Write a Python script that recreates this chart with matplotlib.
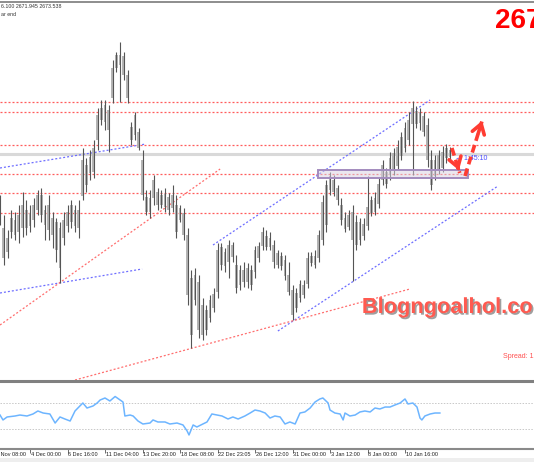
import matplotlib
matplotlib.use('Agg')
import matplotlib.pyplot as plt
import matplotlib.patheffects as pe
from matplotlib.patches import Rectangle
from matplotlib.transforms import blended_transform_factory

plt.rcParams['font.family'] = ['Liberation Sans', 'DejaVu Sans']

# XAUUSD H4 - bars counted from the left edge of the screenshot
highs = [2652.5, 2642.5, 2635, 2645, 2644, 2647.5, 2654, 2650, 2647.5, 2651,
         2655, 2656, 2647.5, 2652.5, 2644, 2641, 2639, 2644, 2647.5, 2650,
         2647.5, 2650, 2676, 2671, 2675, 2680, 2696, 2700, 2700, 2697.5,
         2720, 2724, 2729, 2724, 2715, 2689, 2694, 2686, 2675, 2655,
         2655, 2662.5, 2656, 2655, 2656, 2653.5, 2657.5, 2652.5, 2647.5, 2646,
         2636, 2615, 2616, 2612.5, 2601, 2597.5, 2602.5, 2606, 2628.5, 2628.5,
         2626, 2630, 2629, 2622.5, 2617.5, 2619, 2618.5, 2617.5, 2627, 2629,
         2636.5, 2635, 2634, 2630, 2625, 2624, 2622.5, 2619, 2607.5, 2606,
         2610, 2610, 2624, 2624, 2625, 2635, 2652.5, 2660, 2664, 2662.5,
         2657.5, 2651, 2644, 2645, 2647.5, 2642.5, 2641, 2641, 2662, 2652,
         2654, 2661, 2670, 2666, 2674, 2676, 2680, 2684, 2689, 2694,
         2699.5, 2697, 2696, 2694, 2691, 2675, 2672.5, 2675, 2677, 2678,
         2676.5]
lows = [2637.5, 2617.5, 2621, 2631, 2630, 2628.5, 2631.5, 2632.5, 2634, 2636.5,
        2642.5, 2639, 2630, 2630, 2626, 2619, 2608.5, 2627.5, 2634, 2636,
        2634, 2631, 2650, 2654, 2660, 2661, 2675, 2687.5, 2685, 2674,
        2698.5, 2714, 2699, 2710, 2698.5, 2677.5, 2680, 2675, 2650, 2642.5,
        2641, 2647.5, 2645, 2646, 2644, 2642.5, 2644, 2631, 2639, 2630,
        2597.5, 2576, 2597.5, 2581, 2580, 2582.5, 2589, 2594, 2601, 2615,
        2614, 2611, 2619, 2603.5, 2605, 2606.5, 2606, 2605, 2611, 2619,
        2625, 2625, 2625, 2616, 2616, 2615, 2610, 2602.5, 2590, 2594,
        2599, 2601, 2606, 2617, 2616, 2619, 2627.5, 2634, 2652.5, 2652,
        2647.5, 2637.5, 2634, 2635, 2609.5, 2625, 2627.5, 2630, 2635, 2642,
        2642.5, 2646, 2657.5, 2656, 2660, 2662.5, 2665, 2670, 2674, 2677.5,
        2662.5, 2686, 2685, 2682, 2666.5, 2655, 2660, 2663, 2664, 2668.5,
        2670]
body_top = [2648.5, 2636, 2631, 2641, 2640, 2642.5, 2647.5, 2645, 2643.5, 2647.5,
            2652.5, 2652.5, 2645, 2647.5, 2641, 2639, 2636, 2640, 2644, 2647.5,
            2645, 2645, 2670, 2667.5, 2671.5, 2676, 2692.5, 2696, 2697.5, 2695,
            2716, 2722.5, 2722.5, 2722, 2712.5, 2686.5, 2692.5, 2684, 2670, 2651.5,
            2651, 2660, 2654, 2652.5, 2653, 2651.5, 2652.5, 2647.5, 2646, 2643.5,
            2632.5, 2611, 2612.5, 2609, 2597.5, 2595, 2600, 2603, 2625, 2626.5,
            2624, 2627.5, 2627.5, 2617.5, 2615, 2615, 2616, 2615, 2625, 2627,
            2634, 2632, 2631, 2627.5, 2623.5, 2622, 2620, 2612.5, 2605, 2603.5,
            2608, 2607.5, 2621, 2622, 2622, 2632.5, 2649, 2657.5, 2662, 2660,
            2656, 2647.5, 2641, 2642.5, 2644, 2639, 2639, 2638, 2646.5, 2650,
            2651, 2658, 2667.5, 2664, 2671, 2673.5, 2676.5, 2681.5, 2686, 2690,
            2696, 2694.5, 2694, 2692, 2687.5, 2670, 2670, 2672.5, 2674, 2676,
            2675]
body_bot = [2640, 2621, 2624, 2634, 2632.5, 2634, 2636, 2636, 2637, 2640,
            2645, 2642.5, 2637.5, 2635, 2632.5, 2625, 2616, 2631, 2637, 2639,
            2637, 2636, 2652, 2657.5, 2663.5, 2664, 2680, 2690, 2689, 2685,
            2701, 2716, 2717.5, 2712.5, 2701, 2680, 2682.5, 2676, 2652.5, 2644,
            2644, 2651, 2647.5, 2647.5, 2646.5, 2645, 2646, 2634, 2640, 2632.5,
            2602.5, 2582.5, 2600, 2585, 2582.5, 2585, 2591, 2596, 2604, 2617.5,
            2617, 2619, 2621.5, 2606, 2607.5, 2609, 2609, 2607.5, 2614, 2621,
            2627, 2626.5, 2626.5, 2619, 2617.5, 2617, 2612, 2604, 2592.5, 2596,
            2601, 2602.5, 2608, 2618.5, 2617.5, 2621, 2630, 2637.5, 2655, 2654,
            2650, 2640, 2635.5, 2636.5, 2630, 2627.5, 2630, 2632, 2637, 2643.5,
            2644, 2648, 2660, 2658, 2662.5, 2665, 2667, 2672, 2676, 2680,
            2688, 2688, 2688.5, 2684, 2670, 2657.5, 2662, 2665, 2666, 2671,
            2671.5]
last_price = 2673.0
bar_info = '6.100 2671.945 2673.538'

# horizontal levels and trend lines drawn on the chart (bar, price)
levels = [2699, 2694, 2677.5, 2663, 2653.5, 2643.5]
blue_lines = [((0, 2666), (38.9, 2678)),
              ((0, 2603.5), (37.9, 2615.5)),
              ((56.8, 2627.5), (114.7, 2700)),
              ((74.1, 2584.5), (132.8, 2657))]
red_lines = [((0, 2587.5), (58.7, 2665.5)),
             ((20, 2560), (109.3, 2605.5))]
zone_bars = (84.8, 124.8)
zone_prices = (2661, 2665)
arrow_down = ((120.5, 2676), (122.6, 2663.5))
arrow_up = ((124.0, 2662), (128.8, 2691))

# oscillator in the lower window
osc_x = [0, 0.8, 1.9, 4, 5.3, 7.2, 8.8, 10.1, 11.5, 13.3, 14.7, 16, 17.3, 18.7,
         20, 21.3, 22.1, 23.2, 24.8, 25.9, 26.7, 28, 29.3, 30.7, 32.8, 33.3,
         34.7, 35.5, 36.8, 38.1, 40, 40.8, 42.1, 44, 45.3, 47.2, 48.8, 49.9,
         50.4, 51.5, 52.5, 54.1, 55.2, 56.5, 57.9, 59.2, 60.8, 62.1, 63.5, 65.3,
         66.7, 68, 69.3, 70.7, 72, 73.3, 74.7, 76, 77.3, 78.7, 80, 81.3, 82.7,
         84, 85.3, 86.1, 87.5, 88, 89.3, 90.7, 91.5, 92, 93.3, 94.7, 96, 97.3,
         98.7, 100, 101.3, 102.7, 104, 105.3, 106.7, 108, 108.8, 110.1, 111.2,
         112, 112.5, 113.3, 114.7, 116, 117.3]
osc_y = [51.5, 43.9, 48.5, 50, 51.5, 50, 53.1, 57.7, 54.6, 53.1, 39.2, 48.5, 45.4, 42.3,
         57.7, 65.4, 70, 62.3, 65.4, 70, 74.6, 77.7, 73.1, 80, 71.5, 50,
         51.5, 50, 42.3, 37.7, 39.2, 43.9, 40.8, 40.8, 37.7, 39.2, 36.2, 26.9,
         20.8, 36.2, 33.1, 37.7, 40.8, 53.1, 51.5, 50, 45.4, 48.5, 45.4, 50,
         54.6, 59.2, 57.7, 54.6, 46.9, 50, 48.5, 37.7, 40.8, 37.7, 54.6, 56.2, 62.3,
         71.5, 76.2, 77.7, 70, 59.2, 54.6, 53.1, 43.9, 54.6, 50, 51.5, 56.2, 57.7,
         56.2, 62.3, 60.8, 63.8, 63.8, 66.9, 70, 76.2, 68.5, 70, 63.8,
         46.9, 43.9, 50, 53.1, 54.6, 54.6]
osc_levels = [70, 30]

tick_bars = [-2, 8, 18, 28, 38, 48, 58, 68, 78, 88, 98, 108]
tick_labels = ['29 Nov 08:00', '4 Dec 00:00', '6 Dec 16:00', '11 Dec 04:00',
               '13 Dec 20:00', '18 Dec 08:00', '22 Dec 23:05', '26 Dec 12:00',
               '31 Dec 00:00', '3 Jan 12:00', '8 Jan 00:00', '10 Jan 16:00']

W, H = 534, 462
fig = plt.figure(figsize=(W / 100, H / 100), dpi=100)
fig.patch.set_facecolor('white')
ax = fig.add_axes([0, (H - 381) / H, 1, (381 - 1.5) / H])
ax2 = fig.add_axes([0, (H - 448.5) / H, 1, 65 / H])
xmax = W / 3.75

# main price window
idx = list(range(len(highs)))
ax.axhline(last_price, color='#D9D9D9', lw=2.2, zorder=1)
for lv in levels:
    ax.axhline(lv, color='#FF5C5C', lw=0.9, ls=(0, (1.6, 1.6)), zorder=1)
for (x0, y0), (x1, y1) in blue_lines:
    ax.plot([x0, x1], [y0, y1], color='#6E6EFF', lw=0.9, ls=(0, (1.6, 1.6)), zorder=1)
for (x0, y0), (x1, y1) in red_lines:
    ax.plot([x0, x1], [y0, y1], color='#FF6E6E', lw=0.9, ls=(0, (1.6, 1.6)), zorder=1)

bh = [t - b for t, b in zip(body_top, body_bot)]
ax.bar(idx, bh, bottom=body_bot, width=0.68, color='#B5B5B5', zorder=2)
ax.vlines(idx, lows, highs, color='#555555', lw=0.8, zorder=3)

ax.add_patch(Rectangle((zone_bars[0], zone_prices[0]), zone_bars[1] - zone_bars[0],
                       zone_prices[1] - zone_prices[0], facecolor=(0.85, 0.82, 0.88, 0.5),
                       edgecolor='#A38BBE', lw=1.4, zorder=4))

ax.text(121.3, 2670.5, '\u2190 1:45:10', color='#4B4BFF', fontsize=5, va='center', zorder=5)

for (x0, y0), (x1, y1) in [arrow_down, arrow_up]:
    ax.plot([x0, x1], [y0, y1], color='#FF3C32', lw=2.6, ls=(0, (2.2, 1.2)), zorder=6)
    bx = x1 - 0.3 * (x1 - x0)
    by = y1 - 0.3 * (y1 - y0)
    ax.annotate('', xy=(x1, y1), xytext=(bx, by), zorder=6,
                arrowprops=dict(arrowstyle='->,head_length=0.7,head_width=0.45',
                                color='#FF3C32', lw=2.6))

wm = ax.text(96.5, 2593.5, 'Blogngoalhol.com', fontsize=15.7, fontweight='bold',
             color='#FF5A50', va='baseline', zorder=7)
wm.set_path_effects([pe.withSimplePatchShadow(offset=(1.2, -1.2),
                                              shadow_rgbFace='#606060', alpha=0.6)])
ax.text(134.1, 2572, 'Spread: 1', fontsize=5, color='#FF5050', va='center')

ax.set_xlim(0, xmax)
ax.set_ylim(2559.5, 2749.25)
ax.set_xticks([])
ax.set_yticks([])
for s in ['left', 'right']:
    ax.spines[s].set_visible(False)
ax.spines['top'].set_color('#7A7A7A')
ax.spines['top'].set_linewidth(1.2)
ax.spines['bottom'].set_color('#808080')
ax.spines['bottom'].set_linewidth(2.2)

# oscillator window
for lv in osc_levels:
    ax2.axhline(lv, color='#C8C8C8', lw=0.7, ls=(0, (1.5, 1.5)))
ax2.plot(osc_x, osc_y, color='#6DB5FF', lw=1.1)
ax2.set_xlim(0, xmax)
ax2.set_ylim(0, 100)
ax2.set_yticks([])
ax2.set_xticks(tick_bars[1:])
ax2.tick_params(axis='x', length=3, width=0.6, color='#555555', labelbottom=False)
for s in ['left', 'right', 'top']:
    ax2.spines[s].set_visible(False)
ax2.spines['bottom'].set_color('#8A8A8A')
ax2.spines['bottom'].set_linewidth(1.5)
tr = blended_transform_factory(ax2.transData, ax2.transAxes)
for tb, tl in zip(tick_bars, tick_labels):
    ax2.text(tb + 0.25, -0.09, tl, transform=tr, fontsize=4, color='#222222',
             ha='left', va='center', clip_on=False)

# header texts
fig.text(1 / W, 1 - 6 / H, bar_info, fontsize=3.8, color='#333333', va='center')
fig.text(1 / W, 1 - 14 / H, 'ar end', fontsize=3.8, color='#333333', va='center')
fig.text(495 / W, 1 - 28 / H, f'{int(last_price)}', fontsize=20, fontweight='bold',
         color='#FF0000', va='baseline')
fig.add_artist(Rectangle((0, 0), 1, 4 / H, transform=fig.transFigure,
                         facecolor='#EEEEEE', edgecolor='none'))

fig.savefig('out.png', dpi=100)
